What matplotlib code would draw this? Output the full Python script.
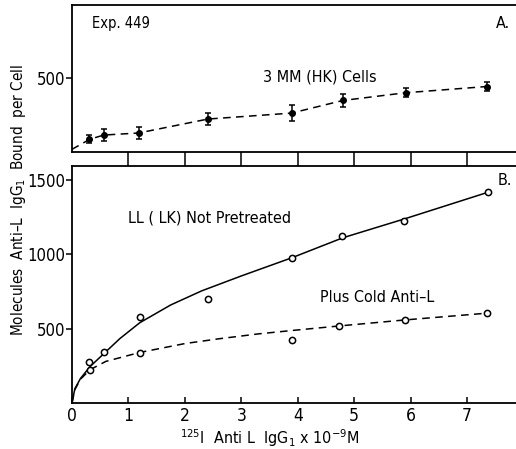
import matplotlib
matplotlib.use("Agg")
import matplotlib.pyplot as plt

plt.rcParams['font.family'] = ['DejaVu Sans']
plt.rcParams['font.stretch'] = 'condensed'
plt.rcParams['mathtext.fontset'] = 'custom'
plt.rcParams['mathtext.rm'] = 'DejaVu Sans:stretch=condensed'
plt.rcParams['mathtext.it'] = 'DejaVu Sans:stretch=condensed'

# panel A: 3MM(HK) cells, mean +/- error
conc_a = [0.31, 0.56, 1.18, 2.41, 3.89, 4.80, 5.91, 7.35]
bound_a = [85, 114, 128, 222, 262, 347, 399, 441]
err_a = [27, 40, 40, 39, 55, 44, 31, 31]
line_a_x = [0, 0.31, 0.56, 1.18, 2.41, 3.89, 4.80, 5.91, 7.35]
line_a_y = [18, 85, 114, 128, 222, 262, 347, 399, 441]

# panel B: LL(LK) cells
conc_b = [0.31, 0.57, 1.21, 2.41, 3.89, 4.78, 5.88, 7.37]
bound_b = [274, 343, 580, 697, 978, 1127, 1228, 1420]
conc_cold = [0.32, 1.21, 3.89, 4.74, 5.90, 7.36]
bound_cold = [224, 337, 424, 519, 559, 605]

# fitted curves
fit_b_x = [0, 0.05, 0.15, 0.32, 0.6, 0.85, 1.2, 1.75, 2.3, 3.0, 3.9, 4.8, 5.9, 7.37]
fit_b_y = [0, 95, 165, 245, 345, 434, 540, 660, 755, 855, 978, 1112, 1240, 1418]
fit_cold_x = [0, 0.05, 0.15, 0.32, 0.6, 1.2, 2.0, 2.6, 3.3, 3.9, 4.75, 5.9, 7.37]
fit_cold_y = [0, 90, 160, 224, 280, 340, 400, 432, 465, 488, 519, 559, 605]

fig = plt.figure(figsize=(5.16, 4.49), dpi=100)
left = 72 / 516
xmax = (516 - 72) / 56.43

ax_a = fig.add_axes([left, 1 - 152 / 449, 1 - left, (152 - 5) / 449])
ax_b = fig.add_axes([left, 1 - 403 / 449, 1 - left, (403 - 166) / 449])

for ax in (ax_a, ax_b):
    ax.set_xlim(0, xmax)
    ax.spines['right'].set_visible(False)
    for s in ax.spines.values():
        s.set_linewidth(1.3)

# top panel
ax_a.plot(line_a_x, line_a_y, color='black', lw=1.1, dashes=(5, 3.5))
ax_a.errorbar(conc_a, bound_a, yerr=err_a, fmt='o', color='black', ms=4,
              capsize=2.5, elinewidth=1.1, capthick=1.1)
ax_a.set_ylim(0, 990)
ax_a.set_yticks([500])
ax_a.set_yticklabels(['500'], fontsize=12)
ax_a.set_xticks(range(1, 8))
ax_a.set_xticklabels([])
ax_a.tick_params(axis='x', direction='out', length=10, width=1.1)
ax_a.tick_params(axis='y', direction='out', length=4, width=1.1, pad=1)
ax_a.text(0.35, 865, 'Exp. 449', fontsize=10.5, va='center')
ax_a.text(7.52, 865, 'A.', fontsize=11.5, va='center')
ax_a.text(4.39, 505, '3 MM (HK) Cells', fontsize=11.5, va='center', ha='center')

# bottom panel
ax_b.plot(fit_b_x, fit_b_y, color='black', lw=1.1)
ax_b.plot(fit_cold_x, fit_cold_y, color='black', lw=1.1, dashes=(5, 3.5))
ax_b.plot(conc_b, bound_b, 'o', mfc='white', mec='black', ms=4.5, mew=1.1)
ax_b.plot(conc_cold, bound_cold, 'o', mfc='white', mec='black', ms=4.5, mew=1.1)
ax_b.set_ylim(0, 1595)
ax_b.set_yticks([500, 1000, 1500])
ax_b.set_yticklabels(['500', '1000', '1500'], fontsize=12)
ax_b.set_xticks(range(0, 8))
ax_b.set_xticklabels([str(i) for i in range(8)], fontsize=12.5)
ax_b.tick_params(axis='x', direction='in', length=4, width=1.1, pad=3)
ax_b.tick_params(axis='y', direction='out', length=4, width=1.1, pad=1)
ax_b.text(7.55, 1497, 'B.', fontsize=11.5, va='center')
ax_b.text(1.0, 1245, 'LL ( LK) Not Pretreated', fontsize=11.5, va='center')
ax_b.text(5.4, 713, 'Plus Cold Anti\u2013L', fontsize=11.5, va='center', ha='center')

fig.text(0.035, 0.555, 'Molecules  Anti\u2013L  IgG$_{1}$  Bound  per Cell',
         rotation=90, ha='center', va='center', fontsize=11)
fig.text(0.523, 0.025, '$^{125}$I  Anti L  IgG$_{1}$ x 10$^{-9}$M',
         ha='center', va='center', fontsize=11.5)

fig.savefig('out.png', dpi=100)
